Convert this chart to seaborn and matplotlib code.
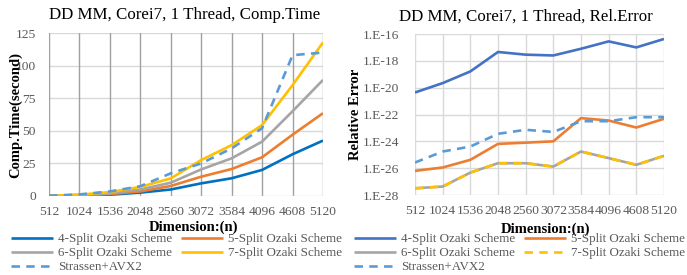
import matplotlib
matplotlib.use("Agg")
import matplotlib.pyplot as plt
import seaborn as sns
import numpy as np
from matplotlib.ticker import FixedLocator

sns.set_theme(style="white")
plt.rcParams['font.family'] = ['Liberation Serif', 'DejaVu Serif']

dims = ["512", "1024", "1536", "2048", "2560", "3072", "3584", "4096", "4608", "5120"]
series_names = ["4-Split Ozaki Scheme", "5-Split Ozaki Scheme", "6-Split Ozaki Scheme",
                "7-Split Ozaki Scheme", "Strassen+AVX2"]

# Computation time (seconds)
time_4 = [0.1, 0.5, 1.0, 2.6, 5.0, 9.7, 13.6, 20.0, 32.0, 42.5]
time_5 = [0.1, 0.7, 1.5, 3.5, 7.7, 14.8, 20.7, 29.7, 47.0, 63.5]
time_6 = [0.1, 0.8, 2.0, 5.0, 10.2, 20.4, 28.9, 41.7, 65.0, 89.0]
time_7 = [0.1, 1.0, 3.0, 7.0, 13.5, 27.6, 39.0, 54.4, 85.0, 117.8]
time_s = [0.2, 1.2, 3.5, 7.5, 17.4, 25.0, 36.5, 52.0, 108.0, 110.0]

# Relative error (log10)
err_4 = [-20.36, -19.66, -18.79, -17.34, -17.54, -17.60, -17.10, -16.55, -17.00, -16.37]
err_5 = [-26.20, -25.95, -25.38, -24.19, -24.10, -24.00, -22.27, -22.45, -22.97, -22.32]
err_6 = [-27.50, -27.37, -26.33, -25.63, -25.63, -25.88, -24.76, -25.25, -25.75, -25.08]
err_7 = [-27.50, -27.37, -26.33, -25.63, -25.63, -25.88, -24.76, -25.25, -25.75, -25.08]
err_s = [-25.58, -24.76, -24.39, -23.44, -23.14, -23.30, -22.50, -22.50, -22.20, -22.20]

W, H = 687, 275
fig = plt.figure(figsize=(W / 100, H / 100), dpi=100)

def box(x0, y0, x1, y1):
    return [x0 / W, 1 - y1 / H, (x1 - x0) / W, (y1 - y0) / H]

ax1 = fig.add_axes(box(49, 33, 323, 196))
ax2 = fig.add_axes(box(415, 34, 664, 195))

xs = np.arange(len(dims))
lw = 1.9
tick_col = "#595959"
tick_fs = 9.7

left_styles = [
    (time_4, "#0070C0", None),
    (time_5, "#ED7D31", None),
    (time_6, "#A5A5A5", None),
    (time_7, "#FFC000", None),
    (time_s, "#5B9BD5", (3.2, 2.4)),
]
right_styles = [
    (err_4, "#4472C4", None),
    (err_5, "#ED7D31", None),
    (err_6, "#A5A5A5", None),
    (err_7, "#FFC000", (3.2, 2.4)),
    (err_s, "#5B9BD5", (3.2, 2.4)),
]

h1 = []
for (vals, col, dash), name in zip(left_styles, series_names):
    sns.lineplot(x=xs, y=vals, ax=ax1, color=col, lw=lw, label=name, legend=False)
    ln = ax1.lines[-1]
    if dash:
        ln.set_dashes(dash)
    ln.set_solid_capstyle("butt")
    h1.append(ln)

h2 = []
for (vals, col, dash), name in zip(right_styles, series_names):
    sns.lineplot(x=xs, y=10.0 ** np.array(vals), ax=ax2, color=col, lw=lw, label=name, legend=False)
    ln = ax2.lines[-1]
    if dash:
        ln.set_dashes(dash)
    ln.set_solid_capstyle("butt")
    h2.append(ln)

# Left axis styling
ax1.set_xlim(0, 9)
ax1.set_ylim(0, 125)
ax1.set_yticks([0, 25, 50, 75, 100, 125])
ax1.set_xticks(xs)
ax1.set_xticklabels(dims)
for y in [25, 50, 75, 100, 125]:
    ax1.axhline(y, color="#D9D9D9", lw=1.0, zorder=0)
for x in xs:
    ax1.axvline(x, color="#A0A0A0", lw=1.0, zorder=0)
ax1.axhline(0, color="#D9D9D9", lw=1.0, zorder=0)
for s in ax1.spines.values():
    s.set_visible(False)
ax1.tick_params(axis="both", length=0, labelsize=tick_fs, colors=tick_col)
ax1.tick_params(axis="y", pad=9.5)
ax1.tick_params(axis="x", pad=7)
ax1.set_xlabel("")
ax1.set_ylabel("")

# Right axis styling
ax2.set_yscale("log")
ax2.set_xlim(0, 9)
ax2.set_ylim(1e-28, 1e-16)
yt = [1e-28, 1e-26, 1e-24, 1e-22, 1e-20, 1e-18, 1e-16]
ax2.yaxis.set_major_locator(FixedLocator(yt))
ax2.yaxis.set_minor_locator(FixedLocator([]))
ax2.set_yticklabels(["1.E-28", "1.E-26", "1.E-24", "1.E-22", "1.E-20", "1.E-18", "1.E-16"])
ax2.set_xticks(xs)
ax2.set_xticklabels(dims)
for y in yt:
    ax2.axhline(y, color="#D9D9D9", lw=1.0, zorder=0)
for x in xs:
    ax2.axvline(x, color="#D9D9D9", lw=1.0, zorder=0)
for s in ax2.spines.values():
    s.set_visible(False)
ax2.tick_params(axis="both", length=0, labelsize=tick_fs, colors=tick_col)
ax2.tick_params(axis="y", pad=11.5)
ax2.tick_params(axis="x", pad=7)
ax2.set_xlabel("")
ax2.set_ylabel("")

# Titles and labels
fig.text(185 / W, 1 - 15 / H, "DD MM, Corei7, 1 Thread, Comp.Time", ha="center", va="center",
         fontsize=12.2, color="#000000")
fig.text(526 / W, 1 - 17 / H, "DD MM, Corei7, 1 Thread, Rel.Error", ha="center", va="center",
         fontsize=12.2, color="#000000")
fig.text(193 / W, 1 - 227 / H, "Dimension:(n)", ha="center", va="center", fontsize=10.5,
         fontweight="bold", color="#000000")
fig.text(545 / W, 1 - 229 / H, "Dimension:(n)", ha="center", va="center", fontsize=10.5,
         fontweight="bold", color="#000000")
fig.text(16 / W, 1 - 115 / H, "Comp.Time(second)", ha="center", va="center", rotation=90,
         fontsize=10.5, fontweight="bold", color="#000000")
fig.text(356 / W, 1 - 114 / H, "Relative Error", ha="center", va="center", rotation=90,
         fontsize=10.5, fontweight="bold", color="#000000")

order = [0, 2, 4, 1, 3]
legkw = dict(ncol=2, frameon=False, fontsize=9.4, handlelength=3.2, handletextpad=0.4,
             columnspacing=0.7, labelspacing=0.15, borderpad=0, borderaxespad=0)
leg1 = fig.legend([h1[i] for i in order], [series_names[i] for i in order],
                  loc="upper left", bbox_to_anchor=(11 / W, 1 - 233 / H), **legkw)
leg2 = fig.legend([h2[i] for i in order], [series_names[i] for i in order],
                  loc="upper left", bbox_to_anchor=(354 / W, 1 - 233 / H), **legkw)
for leg in (leg1, leg2):
    for t in leg.get_texts():
        t.set_color(tick_col)

fig.savefig("out.png", dpi=100)
